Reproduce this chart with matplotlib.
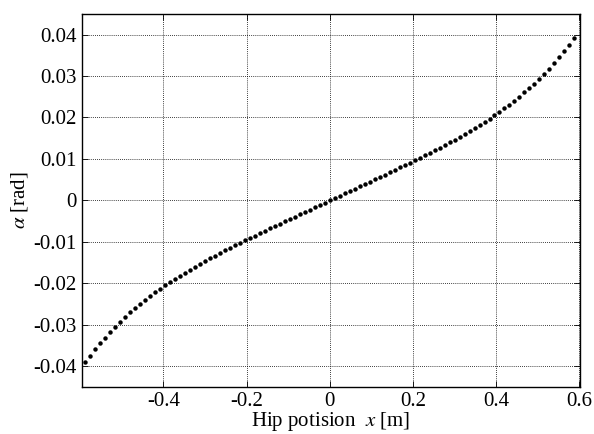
import matplotlib
matplotlib.use("Agg")
import matplotlib.pyplot as plt
import numpy as np

# Hip position x [m] (positive half; curve is odd-symmetric)
x_pos = [0.012, 0.024, 0.036, 0.048, 0.060, 0.072, 0.084, 0.096, 0.108, 0.120,
         0.132, 0.144, 0.156, 0.168, 0.180, 0.192, 0.204, 0.216, 0.228, 0.240,
         0.252, 0.264, 0.276, 0.288, 0.300, 0.312, 0.324, 0.336, 0.348, 0.360,
         0.372, 0.384, 0.396, 0.408, 0.420, 0.432, 0.444, 0.456, 0.468, 0.480,
         0.492, 0.504, 0.516, 0.528, 0.540, 0.552, 0.564, 0.576, 0.588]
alpha_pos = [0.000562, 0.001124, 0.001687, 0.002250, 0.002813, 0.003378, 0.003942,
             0.004508, 0.005075, 0.005644, 0.006214, 0.006787, 0.007362, 0.007940,
             0.008521, 0.009107, 0.009697, 0.010292, 0.010892, 0.011500, 0.012115,
             0.012739, 0.013372, 0.014016, 0.014672, 0.015341, 0.016024, 0.016724,
             0.017441, 0.018178, 0.018936, 0.019717, 0.020524, 0.021358, 0.022222,
             0.023119, 0.024050, 0.025019, 0.026030, 0.027083, 0.028184, 0.029335,
             0.030540, 0.031802, 0.033127, 0.034516, 0.035976, 0.037509, 0.039121]

x_vals = [-v for v in x_pos[::-1]] + [0.0] + x_pos
alpha_vals = [-v for v in alpha_pos[::-1]] + [0.0] + alpha_pos

xticks = [-0.4, -0.2, 0, 0.2, 0.4, 0.6]
xtick_labels = ["-0.4", "-0.2", "0", "0.2", "0.4", "0.6"]
yticks = [-0.04, -0.03, -0.02, -0.01, 0, 0.01, 0.02, 0.03, 0.04]
ytick_labels = ["-0.04", "-0.03", "-0.02", "-0.01", "0", "0.01", "0.02", "0.03", "0.04"]

plt.rcParams['font.family'] = ['Liberation Serif', 'DejaVu Serif']
plt.rcParams['mathtext.fontset'] = 'stix'

fig = plt.figure(figsize=(5.94, 4.34), dpi=100)
ax = fig.add_axes([0.138, 0.109, 0.838, 0.859])

ax.plot(x_vals, alpha_vals, linestyle='none', marker='o', markersize=3.2,
        color='black', markeredgewidth=0)

ax.set_xlim(-0.596, 0.601)
ax.set_ylim(-0.045, 0.045)
ax.set_xticks(xticks)
ax.set_xticklabels(xtick_labels)
ax.set_yticks(yticks)
ax.set_yticklabels(ytick_labels)

ax.grid(True, color='black', linestyle=(0, (1, 1.5)), linewidth=0.6)
ax.tick_params(direction='in', top=True, right=True, length=4, width=0.6,
               labelsize=15, pad=4)
for s in ax.spines.values():
    s.set_linewidth(1.0)

ax.set_xlabel(r"Hip potision  $x$ [m]", fontsize=15, labelpad=-1)
ax.set_ylabel(r"$\alpha$ [rad]", fontsize=15, labelpad=2)

fig.savefig("out.png", dpi=100)
